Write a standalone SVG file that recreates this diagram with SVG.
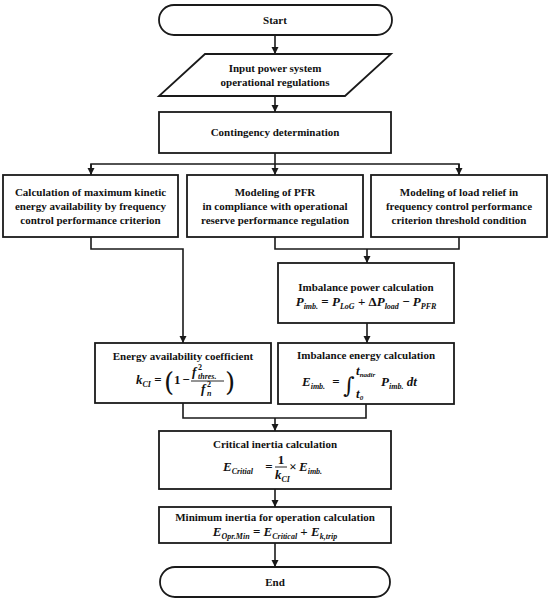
<svg xmlns="http://www.w3.org/2000/svg" width="550" height="601" viewBox="0 0 550 601">
<style>
.box{fill:#fff;stroke:#1a1a1a;stroke-width:1.8}
.t{font-family:"Liberation Serif","Times New Roman",serif;font-weight:bold;font-size:11px;fill:#111;text-anchor:middle}
.m{font-family:"Liberation Serif","Times New Roman",serif;font-weight:bold;font-style:italic;font-size:13px;fill:#111}
.mc{text-anchor:middle}
.op{font-style:normal}
.s{font-size:8px}
.cn{fill:none;stroke:#1a1a1a;stroke-width:1.6}
.big{font-family:"DejaVu Serif","Liberation Serif",serif;font-weight:normal;font-style:normal;fill:#111}
</style>
<defs>
<marker id="ah" markerWidth="8" markerHeight="8" refX="7" refY="4" orient="auto" markerUnits="userSpaceOnUse">
<path d="M0,0.5 L7,4 L0,7.5 Z" fill="#1a1a1a"/>
</marker>
</defs>

<g id="connectors">
<line class="cn" x1="275" y1="35" x2="275" y2="54" marker-end="url(#ah)"/>
<line class="cn" x1="275" y1="96" x2="275" y2="112" marker-end="url(#ah)"/>
<line class="cn" x1="275" y1="153" x2="275" y2="175" marker-end="url(#ah)"/>
<polyline class="cn" points="91,175 91,164 459,164 459,175"/>
<line class="cn" x1="91" y1="164" x2="91" y2="175" marker-end="url(#ah)"/>
<line class="cn" x1="459" y1="164" x2="459" y2="175" marker-end="url(#ah)"/>
<polyline class="cn" points="91,237 91,249 183,249 183,343" marker-end="url(#ah)"/>
<polyline class="cn" points="275,237 275,249 459,249 459,237"/>
<line class="cn" x1="367" y1="249" x2="367" y2="263" marker-end="url(#ah)"/>
<line class="cn" x1="367" y1="323" x2="367" y2="343" marker-end="url(#ah)"/>
<polyline class="cn" points="183,403 183,418 366,418 366,404"/>
<line class="cn" x1="275" y1="418" x2="275" y2="431" marker-end="url(#ah)"/>
<line class="cn" x1="275" y1="489" x2="275" y2="507" marker-end="url(#ah)"/>
<line class="cn" x1="275" y1="543" x2="275" y2="567" marker-end="url(#ah)"/>
</g>

<g id="start">
<rect class="box" x="159" y="5" width="233" height="30" rx="15" ry="15"/>
<text class="t" x="275" y="24">Start</text>
</g>

<g id="input">
<polygon class="box" points="205,54 391,54 345,96 159,96"/>
<text class="t" x="275" y="72">Input  power system</text>
<text class="t" x="275" y="86">operational regulations</text>
</g>

<g id="contingency">
<rect class="box" x="159" y="112" width="232" height="41"/>
<text class="t" x="275" y="136">Contingency determination</text>
</g>

<g id="kinetic">
<rect class="box" x="3" y="175" width="175" height="62"/>
<text class="t" x="90.5" y="196">Calculation of maximum  kinetic</text>
<text class="t" x="90.5" y="210">energy availability by frequency</text>
<text class="t" x="90.5" y="224">control performance criterion</text>
</g>

<g id="pfr">
<rect class="box" x="187" y="175" width="176" height="62"/>
<text class="t" x="275" y="196">Modeling of PFR</text>
<text class="t" x="275" y="210">in compliance with operational</text>
<text class="t" x="275" y="224">reserve performance regulation</text>
</g>

<g id="loadrelief">
<rect class="box" x="371" y="175" width="176" height="62"/>
<text class="t" x="459" y="196">Modeling of load relief in</text>
<text class="t" x="459" y="210">frequency control performance</text>
<text class="t" x="459" y="224">criterion  threshold  condition</text>
</g>

<g id="imbpower">
<rect class="box" x="278" y="263" width="176" height="60"/>
<text class="t" x="366" y="291">Imbalance power calculation</text>
<text class="m mc" x="366" y="306">P<tspan class="s" dy="3">imb.</tspan><tspan class="op" dy="-3"> = </tspan>P<tspan class="s" dy="3">LoG</tspan><tspan class="op" dy="-3"> + Δ</tspan>P<tspan class="s" dy="3">load</tspan><tspan class="op" dy="-3"> − </tspan>P<tspan class="s" dy="3">PFR</tspan></text>
</g>

<g id="energyavail">
<rect class="box" x="95" y="343" width="176" height="60"/>
<text class="t" x="183" y="360">Energy availability coefficient</text>
<text class="m" x="136" y="384">k<tspan class="s" dy="3">CI</tspan></text>
<text class="m op mc" x="158" y="384">=</text>
<text class="big" x="164" y="391" font-size="26">(</text>
<text class="m op" x="174" y="384">1</text>
<text class="m op mc" x="186" y="384">−</text>
<text class="m" x="192" y="376">f</text>
<text class="m s op" x="198" y="370">2</text>
<text class="m s" x="198" y="379">thres.</text>
<line x1="191" y1="381" x2="224" y2="381" stroke="#111" stroke-width="0.9"/>
<text class="m" x="201" y="393">f</text>
<text class="m s op" x="207" y="387">2</text>
<text class="m s" x="207" y="396">n</text>
<text class="big" x="225" y="391" font-size="26">)</text>
</g>

<g id="imbenergy">
<rect class="box" x="278" y="343" width="176" height="61"/>
<text class="t" x="366" y="359">Imbalance energy calculation</text>
<text class="m" x="302" y="386">E<tspan class="s" dy="3">imb.</tspan></text>
<text class="m op mc" x="336" y="386">=</text>
<text class="big" x="343" y="393" font-size="22" font-style="italic">∫</text>
<text class="m" x="356" y="375" font-size="9">t<tspan font-size="7" dy="2">nadir</tspan></text>
<text class="m" x="356" y="398" font-size="9">t<tspan font-size="7" dy="2">0</tspan></text>
<text class="m" x="381" y="386">P<tspan class="s" dy="3">imb.</tspan><tspan dy="-3"> dt</tspan></text>
</g>

<g id="critical">
<rect class="box" x="159" y="431" width="232" height="58"/>
<text class="t" x="275" y="448">Critical inertia calculation</text>
<text class="m" x="223" y="471">E<tspan class="s" dy="3">Critial</tspan></text>
<text class="m op mc" x="269" y="471">=</text>
<text class="m op mc" x="281" y="464">1</text>
<line x1="275" y1="467" x2="287" y2="467" stroke="#111" stroke-width="0.9"/>
<text class="m" x="275" y="479">k<tspan class="s" dy="3">CI</tspan></text>
<text class="m op mc" x="293" y="471">×</text>
<text class="m" x="299" y="471">E<tspan class="s" dy="3">imb.</tspan></text>
</g>

<g id="mininertia">
<rect class="box" x="159" y="507" width="232" height="36"/>
<text class="t" x="275" y="521">Minimum  inertia  for  operation  calculation</text>
<text class="m mc" x="275" y="536">E<tspan class="s" dy="3">Opr.Min</tspan><tspan class="op" dy="-3"> = </tspan>E<tspan class="s" dy="3">Critical</tspan><tspan class="op" dy="-3"> + </tspan>E<tspan class="s" dy="3">k,trip</tspan></text>
</g>

<g id="end">
<rect class="box" x="160" y="567" width="230" height="30" rx="15" ry="15"/>
<text class="t" x="275" y="586">End</text>
</g>
</svg>
